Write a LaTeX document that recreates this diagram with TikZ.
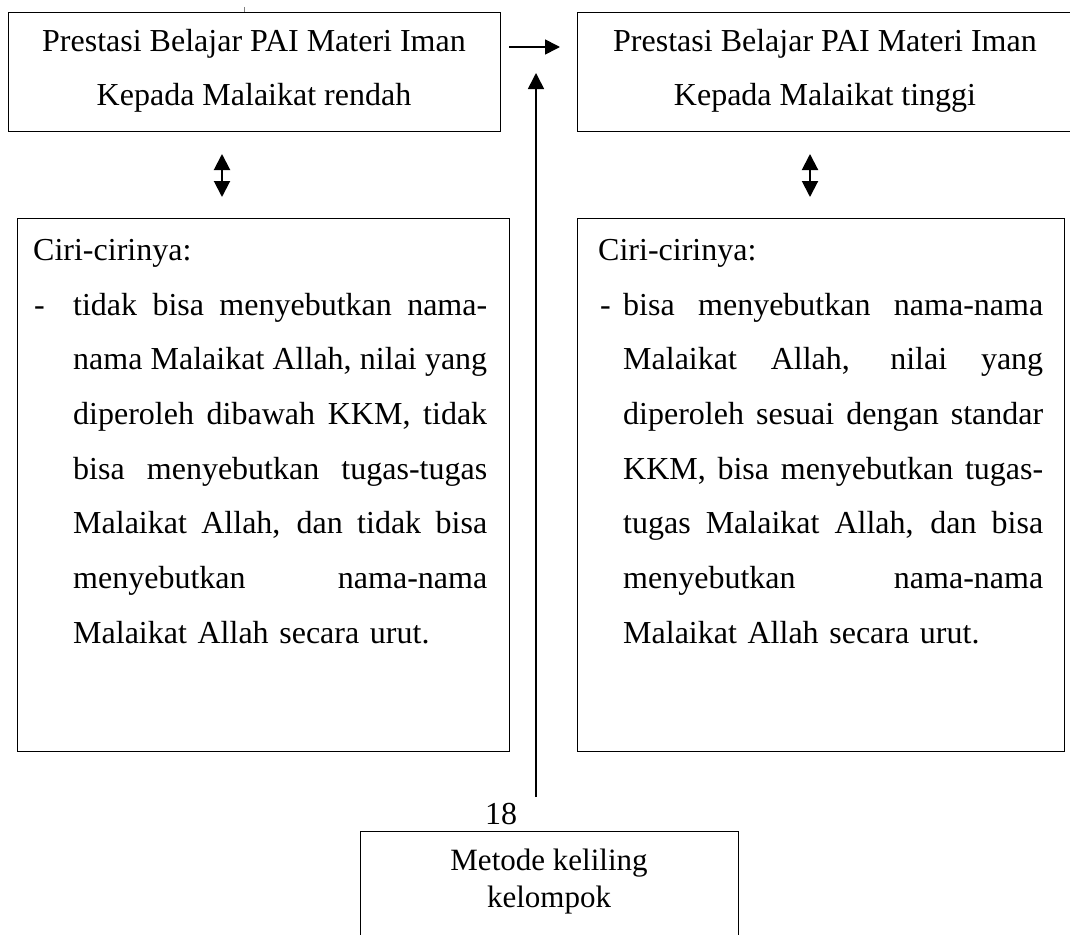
\documentclass[tikz,border=0pt]{standalone}
\usepackage{fontspec}
\setmainfont{Liberation Serif}
\usetikzlibrary{arrows.meta}
\newcommand{\jline}[2]{\makebox[#1][s]{\spaceskip=0.25em plus 20em minus 0.05em\relax #2}}
\begin{document}
\begin{tikzpicture}[x=1pt,y=-1pt,
  boxstyle/.style={draw, line width=1.3pt, inner sep=0pt, anchor=north west},
  txt/.style={font=\fontsize{32}{54.7}\selectfont, inner sep=0pt},
  smalltxt/.style={font=\fontsize{31}{37}\selectfont, inner sep=0pt},
  conn/.style={line width=1.6pt, -{Triangle[length=15pt,width=15pt]}},
  upconn/.style={line width=1.6pt, -{Triangle[length=16pt,width=16pt]}},
  dblarrow/.style={line width=2pt, {Triangle[length=16pt,width=16pt]}-{Triangle[length=16pt,width=16pt]}}]
\useasboundingbox (0,0) rectangle (1070,934);
\clip (0,0) rectangle (1070,934);
% small mark at top
\draw[gray, line width=0.8pt] (244,7) -- (244,12);
% top boxes
\node[boxstyle, minimum width=492pt, minimum height=119pt] (tl) at (8,12) {};
\node[txt, anchor=base] (tlt1) at (254,52) {Prestasi Belajar PAI Materi Iman};
\node[txt, anchor=base] (tlt2) at (254,105) {Kepada Malaikat rendah};
\node[boxstyle, minimum width=496pt, minimum height=119pt] (tr) at (577,12) {};
\node[txt, anchor=base] (trt1) at (825,52) {Prestasi Belajar PAI Materi Iman};
\node[txt, anchor=base] (trt2) at (825,105) {Kepada Malaikat tinggi};
% lower boxes
\node[boxstyle, minimum width=492pt, minimum height=533pt] (bl) at (17,218) {};
\node[txt, anchor=base west] (blc) at (33,260) {Ciri-cirinya:};
\node[txt, anchor=base west] (bld) at (34,315) {-};
\node[txt, anchor=base west, text width=414pt, align=left] (blb) at (73,315) {%
\jline{414pt}{tidak bisa menyebutkan nama-}\\
\jline{414pt}{nama Malaikat Allah, nilai yang}\\
\jline{414pt}{diperoleh dibawah KKM, tidak}\\
\jline{414pt}{bisa menyebutkan tugas-tugas}\\
\jline{414pt}{Malaikat Allah, dan tidak bisa}\\
\jline{414pt}{menyebutkan nama-nama}\\
Malaikat Allah secara urut.};
\node[boxstyle, minimum width=487pt, minimum height=533pt] (br) at (577,218) {};
\node[txt, anchor=base west] (brc) at (598,260) {Ciri-cirinya:};
\node[txt, anchor=base west] (brd) at (600,315) {-};
\node[txt, anchor=base west, text width=420pt, align=left] (brb) at (623,315) {%
\jline{420pt}{bisa menyebutkan nama-nama}\\
\jline{420pt}{Malaikat Allah, nilai yang}\\
\jline{420pt}{diperoleh sesuai dengan standar}\\
\jline{420pt}{KKM, bisa menyebutkan tugas-}\\
\jline{420pt}{tugas Malaikat Allah, dan bisa}\\
\jline{420pt}{menyebutkan nama-nama}\\
Malaikat Allah secara urut.};
% bottom box
\node[boxstyle, minimum width=378pt, minimum height=200pt] (bb) at (360,831) {};
\node[smalltxt, anchor=base] (bbt1) at (549,870) {Metode keliling};
\node[smalltxt, anchor=base] (bbt2) at (549,907) {kelompok};
\node[txt, anchor=base] (pg) at (501,824) {18};
% connectors
\coordinate (ha1) at (509,47);
\coordinate (ha2) at (560,47);
\draw[conn] (ha1) -- (ha2);
\coordinate (va1) at (536,797);
\coordinate (va2) at (536,73);
\draw[upconn] (va1) -- (va2);
\coordinate (dl1) at (222,154);
\coordinate (dl2) at (222,197);
\draw[dblarrow] (dl1) -- (dl2);
\coordinate (dr1) at (810,154);
\coordinate (dr2) at (810,197);
\draw[dblarrow] (dr1) -- (dr2);
\end{tikzpicture}
\end{document}
